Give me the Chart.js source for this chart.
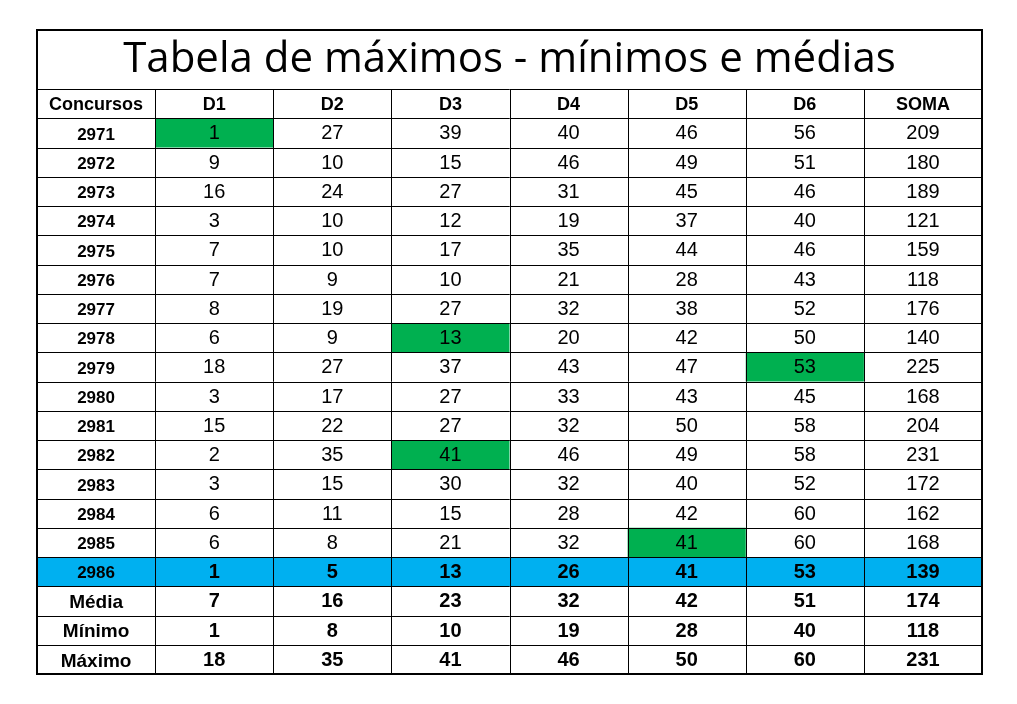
<!DOCTYPE html>
<html>
<head>
<meta charset="utf-8">
<script src="https://cdn.jsdelivr.net/npm/chart.js"></script>
<style>
  html, body { margin: 0; padding: 0; background: #fff; }
  #wrap { width: 1017px; height: 704px; }
</style>
</head>
<body>
<div id="wrap"><canvas id="c" width="1017" height="704"></canvas></div>
<script>
// テーブルのデータ
const title = "Tabela de máximos - mínimos e médias";
const columns = ["Concursos", "D1", "D2", "D3", "D4", "D5", "D6", "SOMA"];
const concursos = ["2971","2972","2973","2974","2975","2976","2977","2978","2979","2980","2981","2982","2983","2984","2985","2986"];
const d1 = [1, 9, 16, 3, 7, 7, 8, 6, 18, 3, 15, 2, 3, 6, 6, 1];
const d2 = [27, 10, 24, 10, 10, 9, 19, 9, 27, 17, 22, 35, 15, 11, 8, 5];
const d3 = [39, 15, 27, 12, 17, 10, 27, 13, 37, 27, 27, 41, 30, 15, 21, 13];
const d4 = [40, 46, 31, 19, 35, 21, 32, 20, 43, 33, 32, 46, 32, 28, 32, 26];
const d5 = [46, 49, 45, 37, 44, 28, 38, 42, 47, 43, 50, 49, 40, 42, 41, 41];
const d6 = [56, 51, 46, 40, 46, 43, 52, 50, 53, 45, 58, 58, 52, 60, 60, 53];
const soma = [209, 180, 189, 121, 159, 118, 176, 140, 225, 168, 204, 231, 172, 162, 168, 139];
const statLabels = ["Média", "Mínimo", "Máximo"];
const media = [7, 16, 23, 32, 42, 51, 174];
const minimo = [1, 8, 10, 19, 28, 40, 118];
const maximo = [18, 35, 41, 46, 50, 60, 231];
// 緑でハイライトするセル [concurso, coluna]
const greenCells = [["2971","D1"], ["2978","D3"], ["2979","D6"], ["2982","D3"], ["2985","D5"]];
const blueRow = "2986";

const rowLabels = ["__header", ...concursos, ...statLabels];
const series = [d1, d2, d3, d4, d5, d6, soma];
const statSeries = [media, minimo, maximo];

// セルごとのポイントを作成
const points = [];
concursos.forEach((c, r) => {
    series.forEach((s, k) => points.push({ x: columns[k + 1], y: c, v: s[r] }));
});
statLabels.forEach((lab, r) => {
    statSeries[r].forEach((v, k) => points.push({ x: columns[k + 1], y: lab, v: v }));
});

const tablePlugin = {
    id: "tablePlugin",
    afterDatasetsDraw(chart) {
        const ctx = chart.ctx;
        const xs = chart.scales.x, ys = chart.scales.y;
        const hw = Math.abs(xs.getPixelForValue(1) - xs.getPixelForValue(0)) / 2;
        const hh = Math.abs(ys.getPixelForValue(1) - ys.getPixelForValue(0)) / 2;
        const cell = (col, row) => {
            const cx = xs.getPixelForValue(columns.indexOf(col));
            const cy = ys.getPixelForValue(rowLabels.indexOf(row));
            return { x: cx - hw, y: cy - hh, w: hw * 2, h: hh * 2, cx, cy };
        };
        const area = chart.chartArea;
        ctx.save();
        // 背景
        const br = cell("Concursos", blueRow);
        ctx.fillStyle = "#00b0f0";
        ctx.fillRect(area.left, br.y, area.right - area.left, br.h);
        ctx.fillStyle = "#00b050";
        greenCells.forEach(([r, c]) => {
            const g = cell(c, r);
            ctx.fillRect(g.x, g.y, g.w, g.h);
        });
        // 罫線
        ctx.strokeStyle = "#000";
        ctx.lineWidth = 1;
        ctx.beginPath();
        columns.forEach((c, i) => {
            if (i === 0) return;
            const x = Math.round(cell(c, "__header").x) + 0.5;
            ctx.moveTo(x, area.top); ctx.lineTo(x, area.bottom);
        });
        rowLabels.forEach((r, i) => {
            if (i === 0) return;
            const y = Math.round(cell("D1", r).y) + 0.5;
            ctx.moveTo(area.left, y); ctx.lineTo(area.right, y);
        });
        ctx.stroke();
        ctx.lineWidth = 2;
        ctx.strokeRect(area.left, 30, area.right - area.left, area.bottom - 30);
        ctx.lineWidth = 1;
        ctx.beginPath();
        ctx.moveTo(area.left, area.top + 0.5); ctx.lineTo(area.right, area.top + 0.5);
        ctx.stroke();
        // タイトル
        ctx.fillStyle = "#000";
        ctx.textAlign = "center";
        ctx.textBaseline = "middle";
        ctx.font = "42px 'Open Sans', sans-serif";
        ctx.fillText(title, (area.left + area.right) / 2, 60);
        // ヘッダー
        ctx.font = "bold 18px 'Liberation Sans', Arial, sans-serif";
        columns.forEach(c => {
            const h = cell(c, "__header");
            ctx.fillText(c, h.cx, h.cy + 1);
        });
        // 行ラベル
        rowLabels.slice(1).forEach(r => {
            const h = cell("Concursos", r);
            ctx.font = (statLabels.includes(r) ? "bold 19px" : "bold 17px") + " 'Liberation Sans', Arial, sans-serif";
            ctx.fillText(r, h.cx, h.cy + 2);
        });
        // 値
        points.forEach(p => {
            const h = cell(p.x, p.y);
            const bold = p.y === blueRow || statLabels.includes(p.y);
            ctx.font = (bold ? "bold " : "") + "20px 'Liberation Sans', Arial, sans-serif";
            ctx.fillText(String(p.v), h.cx, h.cy + 1);
        });
        ctx.restore();
    }
};

new Chart(document.getElementById("c").getContext("2d"), {
    type: "scatter",
    data: {
        datasets: [{ data: points, pointRadius: 0, pointHoverRadius: 0 }]
    },
    options: {
        responsive: false,
        animation: false,
        devicePixelRatio: 1,
        layout: { padding: { left: 37, right: 35, top: 89, bottom: 30 } },
        plugins: { legend: { display: false }, tooltip: { enabled: false } },
        scales: {
            x: { type: "category", labels: columns, offset: true, display: false },
            y: { type: "category", labels: rowLabels, offset: true, display: false }
        }
    },
    plugins: [tablePlugin]
});
</script>
</body>
</html>
